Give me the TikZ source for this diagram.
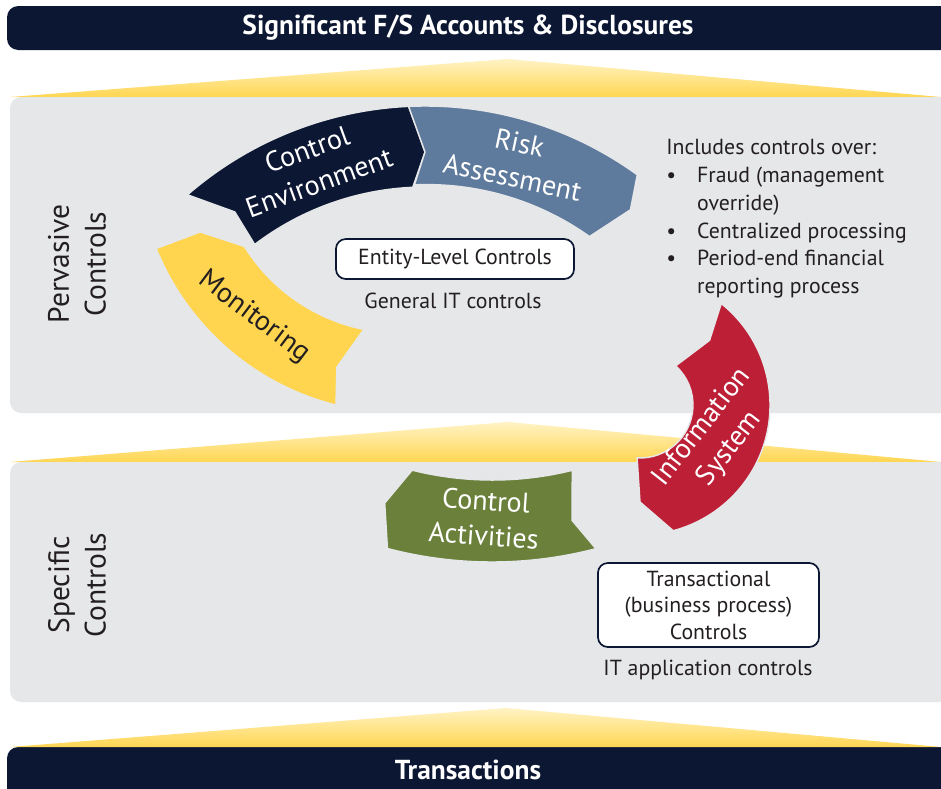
\documentclass[tikz,border=0pt]{standalone}
\usepackage{fontspec}
\setmainfont{PT Sans}
\usetikzlibrary{shapes, positioning, calc}

\begin{document}
\begin{tikzpicture}[x=0.025cm, y=-0.025cm,
    bartext/.style={text=white, font=\fontsize{19.5}{22}\selectfont\bfseries},
    sidetext/.style={text=inkcolor, align=center, font=\fontsize{21}{26}\selectfont},
    ringtext/.style={text=white, align=center, font=\fontsize{20}{25}\selectfont},
    ctlbox/.style={draw=navycolor, line width=1.2pt, fill=white, rounded corners=7pt, text=inkcolor, align=center, font=\fontsize{15.5}{18.8}\selectfont},
    plaintext/.style={text=inkcolor, font=\fontsize{15.5}{19.8}\selectfont},
    ringpiece/.style={draw=panelcolor, line width=1pt}]
        % Define some colors for convenience
        \definecolor{navycolor}{RGB}{12,23,51} % bars and control environment
        \definecolor{slatecolor}{RGB}{94,122,156} % risk assessment
        \definecolor{yellowcolor}{RGB}{255,213,79} % monitoring
        \definecolor{redcolor}{RGB}{189,31,54} % information system
        \definecolor{greencolor}{RGB}{106,128,59} % control activities
        \definecolor{panelcolor}{RGB}{230,231,233} % grey panels
        \definecolor{palecolor}{RGB}{255,243,196} % top of the wedges
        \definecolor{deepcolor}{RGB}{255,214,82} % bottom of the wedges
        \definecolor{inkcolor}{RGB}{35,31,32} % text

        \clip (0,0) rectangle (941,789);
        \fill[white] (0,0) rectangle (941,789);

        % Bars
        \fill[navycolor, rounded corners=8pt] (7,6) rectangle (980,50); % top bar
        \fill[navycolor, rounded corners=8pt] (7,747) rectangle (980,810); % bottom bar

        % Wedges
        \shade[top color=palecolor, bottom color=deepcolor] (10,97) -- (508,59) -- (941,97) -- cycle;
        \shade[top color=palecolor, bottom color=deepcolor] (10,462) -- (508,422) -- (941,462) -- cycle;
        \shade[top color=palecolor, bottom color=deepcolor] (10,747) -- (506,708) -- (941,747) -- cycle;

        % Panels
        \fill[panelcolor, rounded corners=8pt] (10,97) rectangle (980,413); % pervasive
        \fill[panelcolor, rounded corners=8pt] (10,462) rectangle (980,702); % specific

        % Ring centres
        \coordinate (topC) at (425,468);
        \coordinate (monC) at (400,150);
        \coordinate (infC) at (640,405);
        \coordinate (actC) at (492,150);

        % Ring pieces
        \fill[yellowcolor, ringpiece] ($(monC)+(104.1:263)$) arc[start angle=104.1, end angle=158, radius=263]
            -- ($(monC)+(157.7:216)$) -- ($(monC)+(148.2:183)$) arc[start angle=148.2, end angle=101.4, radius=183]
            -- ($(monC)+(106.2:226)$) -- cycle; % monitoring
        \fill[navycolor, ringpiece] ($(topC)+(-131:362)$) arc[start angle=-131, end angle=-92.6, radius=362]
            -- ($(topC)+(-90:316)$) -- ($(topC)+(-92.5:281)$) arc[start angle=-92.5, end angle=-127.3, radius=281]
            -- ($(topC)+(-126.6:319)$) -- cycle; % control environment
        \fill[slatecolor, ringpiece] ($(topC)+(-92.6:362)$) arc[start angle=-92.6, end angle=-54.1, radius=362]
            -- ($(topC)+(-51.5:330)$) -- ($(topC)+(-54.6:284)$) arc[start angle=-54.6, end angle=-92.5, radius=281]
            -- ($(topC)+(-90:316)$) -- cycle; % risk assessment
        \fill[greencolor, ringpiece] ($(actC)+(75.4:412)$) arc[start angle=75.4, end angle=104.7, radius=412]
            -- ($(actC)+(106.9:369)$) -- ($(actC)+(104:330)$) arc[start angle=104, end angle=76.1, radius=332]
            -- ($(actC)+(77.8:379)$) -- cycle; % control activities
        \fill[redcolor, ringpiece] ($(infC)+(-51.3:130)$) arc[start angle=-51.3, end angle=75.2, radius=130]
            -- ($(infC)+(90:97)$) -- ($(infC)+(93.1:53)$) arc[start angle=93.1, end angle=-47.6, radius=53]
            -- ($(infC)+(-42.9:95)$) -- cycle; % information system

        % Labels
        \node[bartext] (topbar) at (468,28) {Significant F/S Accounts \& Disclosures};
        \node[bartext] (bottombar) at (468,770) {Transactions};
        \node[sidetext, rotate=90] (pervasive) at (77,264) {Pervasive\\Controls};
        \node[sidetext, rotate=90] (specific) at (77,585) {Specific\\Controls};
        \node[ringtext, rotate=20] (envtext) at (313,166) {Control\\Environment};
        \node[ringtext, rotate=-12] (risktext) at (516,160) {Risk\\Assessment};
        \node[ringtext, text=inkcolor, rotate=-37] (montext) at (254,317) {Monitoring};
        \node[ringtext, rotate=52] (inftext) at (716,438) {Information\\System};
        \node[ringtext, rotate=-4] (acttext) at (485,518) {Control\\Activities};

        % Control boxes
        \node[ctlbox, minimum width=5.95cm, minimum height=1cm] (entity) at (455,259) {Entity-Level Controls};
        \node[plaintext] (gitc) at (453,301) {General IT controls};
        \node[ctlbox, minimum width=5.525cm, minimum height=2.1cm] (trans) at (708.5,605) {Transactional\\(business process)\\Controls};
        \node[plaintext] (itapp) at (708,670) {IT application controls};

        % Includes list
        \node[plaintext, align=left, anchor=north west, inner sep=0pt] (overlist) at (666,139) {Includes controls over:\\
            \makebox[22pt][l]{\textbullet}Fraud (management\\
            \hspace*{22pt}override)\\
            \makebox[22pt][l]{\textbullet}Centralized processing\\
            \makebox[22pt][l]{\textbullet}Period-end financial\\
            \hspace*{22pt}reporting process};
    \end{tikzpicture}
\end{document}
